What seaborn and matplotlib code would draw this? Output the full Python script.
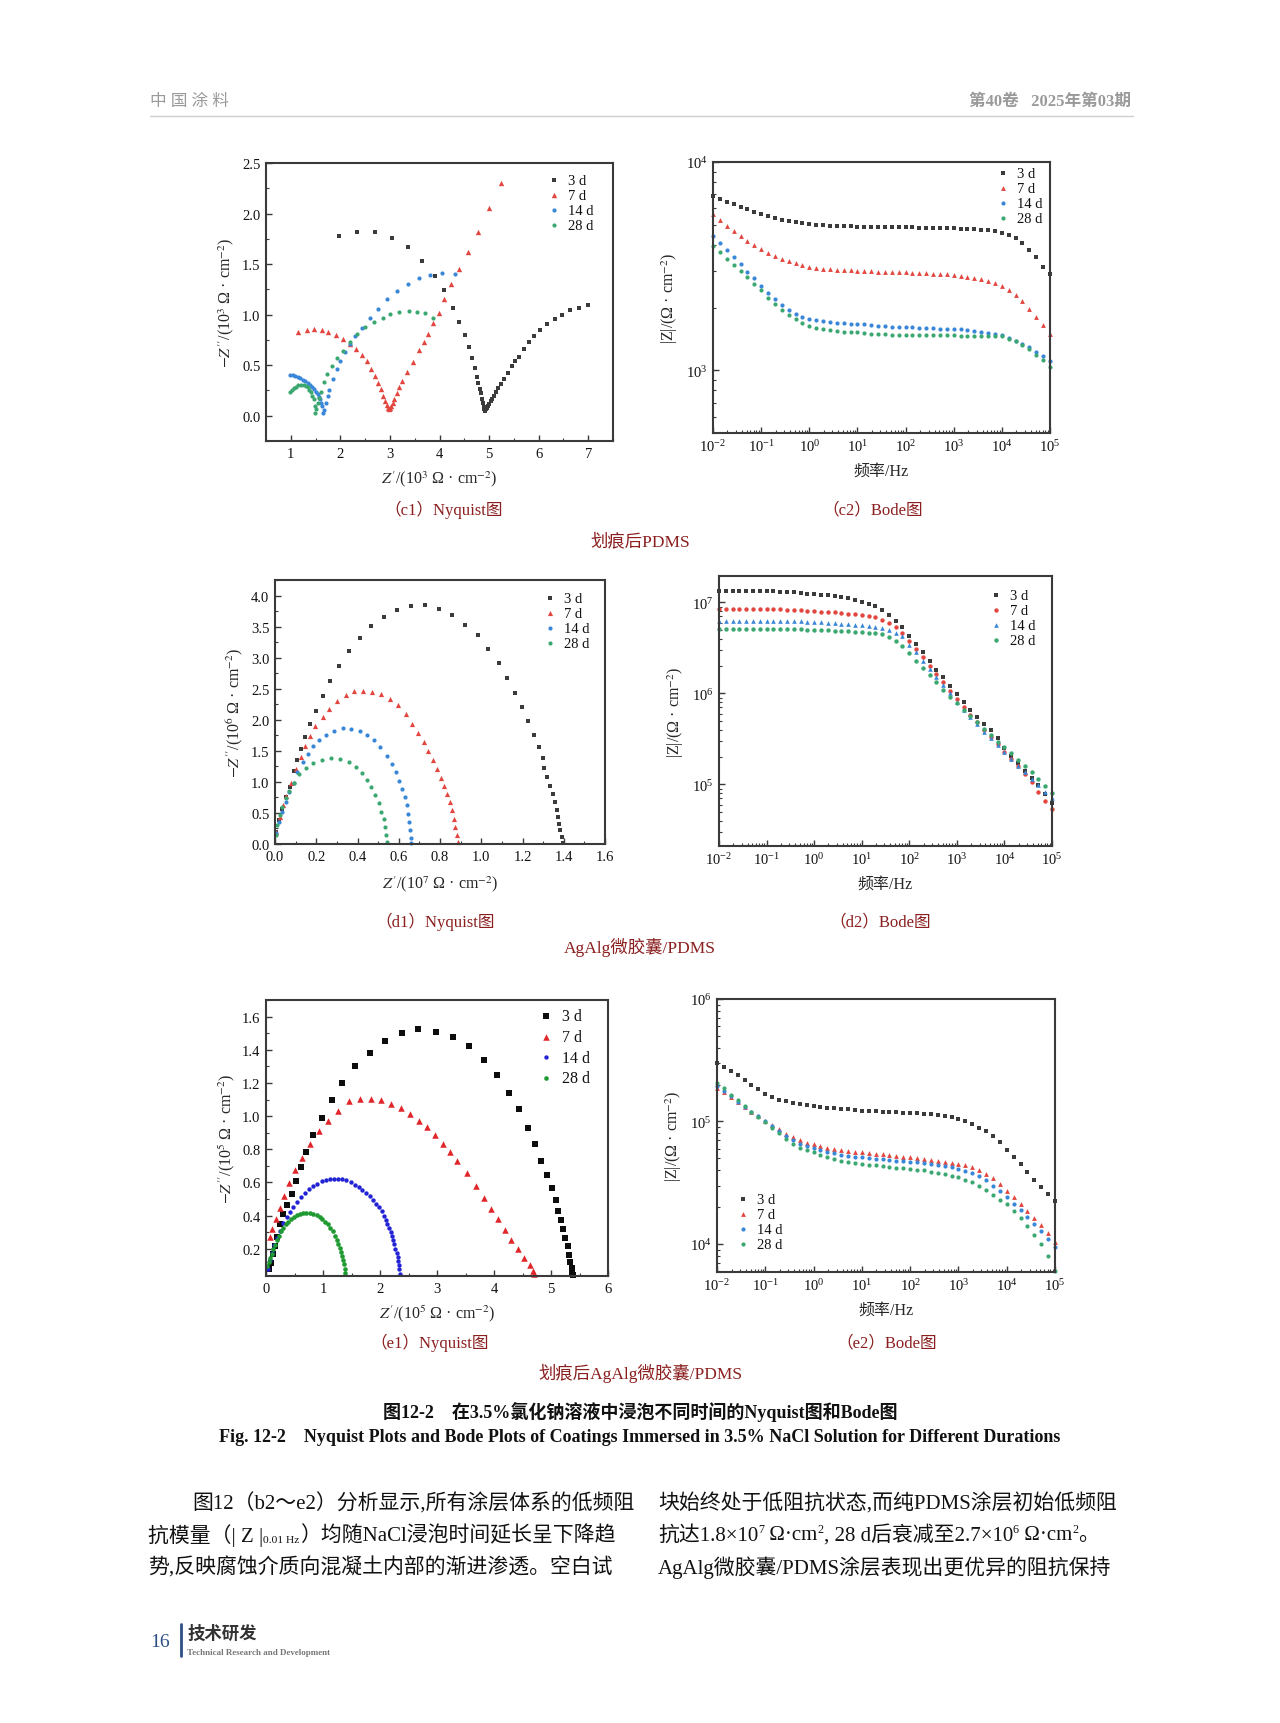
import numpy as np
import pandas as pd
import matplotlib
matplotlib.use("Agg")
import matplotlib.pyplot as plt
import seaborn as sns
from matplotlib.ticker import LogLocator, NullFormatter, MultipleLocator

# ── Data ──────────────────────────────────────────────────────────────────────
DAYS = ['3 d', '7 d', '14 d', '28 d']

# (c1) Nyquist, scratched PDMS, units 10^3
C1_X_3D = [1.98, 2.33, 2.69, 3.04, 3.36, 3.65, 3.90, 4.10, 4.27, 4.39, 4.51, 4.59, 4.66, 4.71, 4.75,
           4.78, 4.81, 4.83, 4.85, 4.87, 4.89, 4.90, 4.91, 4.93, 4.95, 4.97, 5.00, 5.03, 5.06, 5.10,
           5.14, 5.19, 5.24, 5.30, 5.38, 5.46, 5.53, 5.60, 5.70, 5.80, 5.90, 6.02, 6.17, 6.33, 6.47,
           6.64, 6.81, 7.00]
C1_Y_3D = [1.78, 1.82, 1.82, 1.76, 1.67, 1.53, 1.385, 1.24, 1.07, 0.93, 0.80, 0.68, 0.57, 0.47, 0.38,
           0.32, 0.26, 0.22, 0.17, 0.13, 0.09, 0.07, 0.05, 0.065, 0.08, 0.10, 0.12, 0.15, 0.17, 0.20,
           0.23, 0.27, 0.31, 0.36, 0.42, 0.49, 0.54, 0.58, 0.66, 0.73, 0.79, 0.85, 0.91, 0.96, 1.00,
           1.045, 1.07, 1.095]
C1_X_7D = [1.155, 1.32, 1.47, 1.63, 1.76, 1.91, 2.05, 2.19, 2.32, 2.43, 2.54, 2.62, 2.69, 2.75, 2.81,
           2.86, 2.90, 2.94, 2.97, 2.99, 3.01, 3.03, 3.06, 3.09, 3.14, 3.19, 3.25, 3.34, 3.46, 3.59,
           3.68, 3.77, 3.87, 3.98, 4.10, 4.23, 4.39, 4.57, 4.77, 4.99, 5.24]
C1_Y_7D = [0.83, 0.85, 0.86, 0.85, 0.83, 0.80, 0.76, 0.71, 0.66, 0.60, 0.54, 0.46, 0.39, 0.32, 0.26,
           0.20, 0.15, 0.11, 0.08, 0.065, 0.08, 0.10, 0.13, 0.17, 0.22, 0.28, 0.34, 0.43, 0.53, 0.65,
           0.73, 0.81, 0.92, 1.02, 1.15, 1.30, 1.45, 1.62, 1.82, 2.05, 2.30]
C1_X_14D = [0.99, 1.04, 1.09, 1.14, 1.19, 1.24, 1.29, 1.34, 1.39, 1.43, 1.47, 1.51, 1.54, 1.57, 1.59,
            1.61, 1.63, 1.65, 1.68, 1.71, 1.75, 1.78, 1.85, 1.93, 2.00, 2.10, 2.20, 2.30, 2.43, 2.60,
            2.76, 2.94, 3.14, 3.36, 3.58, 3.80, 4.06, 4.31]
C1_Y_14D = [0.405, 0.40, 0.39, 0.38, 0.37, 0.355, 0.34, 0.32, 0.30, 0.28, 0.26, 0.235, 0.21, 0.19, 0.165,
            0.13, 0.10, 0.03, 0.06, 0.13, 0.20, 0.25, 0.36, 0.46, 0.54, 0.63, 0.71, 0.79, 0.87, 0.97,
            1.06, 1.15, 1.23, 1.30, 1.36, 1.39, 1.41, 1.40]
C1_X_28D = [0.99, 1.03, 1.07, 1.11, 1.15, 1.20, 1.26, 1.30, 1.34, 1.37, 1.40, 1.43, 1.46, 1.48, 1.49,
            1.51, 1.54, 1.57, 1.61, 1.67, 1.74, 1.83, 1.93, 2.05, 2.19, 2.33, 2.50, 2.67, 2.86, 3.01,
            3.19, 3.38, 3.55, 3.71, 3.87]
C1_Y_28D = [0.23, 0.25, 0.27, 0.285, 0.30, 0.305, 0.30, 0.29, 0.28, 0.255, 0.23, 0.20, 0.165, 0.10, 0.03,
            0.07, 0.13, 0.18, 0.23, 0.33, 0.41, 0.49, 0.57, 0.64, 0.73, 0.81, 0.88, 0.93, 0.97, 1.01,
            1.03, 1.04, 1.03, 1.02, 0.97]

# Bode frequencies (Hz), shared by c2 / d2 / e2
FREQ_HZ = [0.01, 0.0139, 0.0193, 0.0268, 0.0373, 0.0518, 0.072,
           0.1, 0.139, 0.193, 0.268, 0.373, 0.518, 0.72,
           1.0, 1.39, 1.93, 2.68, 3.73, 5.18, 7.2,
           10, 13.9, 19.3, 26.8, 37.3, 51.8, 72,
           100, 139, 193, 268, 373, 518, 720,
           1e3, 1.39e3, 1.93e3, 2.68e3, 3.73e3, 5.18e3, 7.2e3,
           1e4, 1.39e4, 1.93e4, 2.68e4, 3.73e4, 5.18e4, 7.2e4, 1e5]

# (c2) |Z|, ohm
C2_3D = [6870, 6650, 6450, 6260, 6080, 5920, 5770, 5620, 5490, 5380, 5280, 5200, 5130, 5080,
         5040, 5000, 4970, 4950, 4930, 4920, 4910, 4900, 4890, 4880, 4880, 4870, 4870, 4860,
         4850, 4850, 4840, 4840, 4830, 4820, 4810, 4800, 4790, 4780, 4760, 4740, 4700, 4650,
         4560, 4450, 4300, 4080, 3800, 3480, 3150, 2900]
C2_7D = [5600, 5250, 4930, 4650, 4400, 4180, 3990, 3820, 3670, 3550, 3440, 3350, 3270, 3210,
         3150, 3110, 3080, 3060, 3040, 3030, 3020, 3010, 3000, 2990, 2980, 2970, 2960, 2955,
         2950, 2940, 2930, 2920, 2910, 2900, 2890, 2870, 2850, 2820, 2780, 2740, 2690, 2630,
         2550, 2430, 2300, 2140, 1970, 1800, 1650, 1500]
C2_14D = [4430, 4090, 3780, 3490, 3230, 2980, 2760, 2550, 2360, 2200, 2060, 1950, 1870, 1810,
          1770, 1740, 1720, 1700, 1690, 1680, 1675, 1670, 1660, 1650, 1640, 1630, 1620, 1615,
          1610, 1605, 1600, 1595, 1590, 1585, 1580, 1580, 1570, 1560, 1550, 1530, 1510, 1490,
          1470, 1430, 1390, 1340, 1290, 1230, 1170, 1110]
C2_28D = [3960, 3690, 3440, 3210, 2990, 2790, 2600, 2420, 2230, 2070, 1940, 1840, 1760, 1690,
          1640, 1600, 1580, 1560, 1545, 1535, 1525, 1520, 1510, 1500, 1495, 1490, 1485, 1482,
          1480, 1478, 1476, 1474, 1472, 1471, 1470, 1470, 1468, 1466, 1465, 1464, 1462, 1461,
          1460, 1420, 1380, 1320, 1260, 1190, 1120, 1040]

# (d1) Nyquist, AgAlg/PDMS: x in 10^7, y in 10^6
D1_X_3D = [0.0065, 0.02, 0.036, 0.055, 0.072, 0.091, 0.106, 0.125, 0.147, 0.169, 0.199, 0.235, 0.267,
           0.309, 0.36, 0.41, 0.467, 0.528, 0.593, 0.661, 0.728, 0.795, 0.86, 0.922, 0.984, 1.034,
           1.085, 1.127, 1.166, 1.197, 1.225, 1.257, 1.278, 1.298, 1.306, 1.319, 1.334, 1.347, 1.358,
           1.366, 1.371, 1.379, 1.384, 1.391, 1.396]
D1_Y_3D = [0.19, 0.38, 0.57, 0.75, 0.91, 1.18, 1.36, 1.53, 1.72, 1.93, 2.14, 2.38, 2.63, 2.87, 3.10,
           3.32, 3.51, 3.66, 3.76, 3.83, 3.84, 3.79, 3.68, 3.53, 3.36, 3.14, 2.91, 2.67, 2.43, 2.20,
           1.98, 1.76, 1.56, 1.38, 1.22, 1.075, 0.94, 0.81, 0.67, 0.54, 0.43, 0.33, 0.22, 0.11, 0.02]
D1_X_7D = [0.007, 0.023, 0.039, 0.055, 0.077, 0.101, 0.125, 0.147, 0.169, 0.195, 0.231, 0.264, 0.301,
           0.342, 0.383, 0.427, 0.472, 0.516, 0.557, 0.598, 0.635, 0.663, 0.695, 0.72, 0.744, 0.765,
           0.785, 0.805, 0.818, 0.834, 0.847, 0.858, 0.866, 0.875, 0.881, 0.886]
D1_Y_7D = [0.19, 0.43, 0.62, 0.78, 0.99, 1.21, 1.40, 1.58, 1.74, 1.90, 2.05, 2.18, 2.30, 2.40, 2.46,
           2.47, 2.45, 2.41, 2.33, 2.24, 2.09, 1.93, 1.79, 1.65, 1.50, 1.36, 1.21, 1.06, 0.94, 0.81,
           0.67, 0.54, 0.41, 0.27, 0.14, 0.03]
D1_X_14D = [0.007, 0.02, 0.036, 0.052, 0.068, 0.09, 0.109, 0.134, 0.158, 0.186, 0.215, 0.248, 0.285,
            0.329, 0.37, 0.41, 0.446, 0.48, 0.511, 0.541, 0.565, 0.586, 0.603, 0.617, 0.629, 0.638,
            0.645, 0.65, 0.655, 0.658, 0.66]
D1_Y_14D = [0.17, 0.35, 0.51, 0.67, 0.83, 0.99, 1.16, 1.32, 1.45, 1.57, 1.68, 1.76, 1.82, 1.86, 1.85,
            1.82, 1.76, 1.67, 1.56, 1.42, 1.29, 1.16, 1.02, 0.89, 0.75, 0.62, 0.49, 0.35, 0.22, 0.09,
            0.02]
D1_X_28D = [0.003, 0.011, 0.023, 0.036, 0.052, 0.068, 0.09, 0.117, 0.15, 0.186, 0.228, 0.272, 0.316,
            0.358, 0.394, 0.423, 0.448, 0.467, 0.484, 0.505, 0.516, 0.527, 0.535, 0.540, 0.545]
D1_Y_28D = [0.14, 0.30, 0.46, 0.59, 0.74, 0.86, 0.99, 1.12, 1.22, 1.30, 1.36, 1.38, 1.37, 1.32, 1.24,
            1.14, 1.03, 0.91, 0.79, 0.66, 0.52, 0.40, 0.27, 0.14, 0.03]

# (d2) |Z|, ohm
D2_3D = [1.334e7, 1.334e7, 1.334e7, 1.334e7, 1.334e7, 1.334e7, 1.334e7,
         1.330e7, 1.324e7, 1.315e7, 1.303e7, 1.288e7, 1.271e7, 1.250e7,
         1.230e7, 1.216e7, 1.197e7, 1.175e7, 1.148e7, 1.109e7, 1.059e7,
         1.0e7, 9.66e6, 9.12e6, 8.32e6, 7.33e6, 6.31e6, 5.43e6,
         4.27e6, 3.51e6, 2.85e6, 2.24e6, 1.82e6, 1.51e6, 1.19e6,
         9.77e5, 7.94e5, 6.53e5, 5.43e5, 4.57e5, 3.94e5, 3.24e5,
         2.51e5, 2.07e5, 1.70e5, 1.40e5, 1.16e5, 9.77e4, 7.76e4, 6.31e4]
D2_7D = [8.41e6, 8.41e6, 8.41e6, 8.41e6, 8.41e6, 8.41e6, 8.41e6,
         8.41e6, 8.39e6, 8.36e6, 8.32e6, 8.26e6, 8.18e6, 8.11e6,
         8.04e6, 7.94e6, 7.85e6, 7.76e6, 7.64e6, 7.52e6, 7.38e6,
         7.24e6, 7.08e6, 6.84e6, 6.46e6, 5.96e6, 5.31e6, 4.57e6,
         3.80e6, 3.09e6, 2.51e6, 2.00e6, 1.62e6, 1.32e6, 1.07e6,
         8.71e5, 7.08e5, 5.75e5, 4.79e5, 3.98e5, 3.31e5, 2.75e5,
         2.29e5, 1.91e5, 1.58e5, 1.29e5, 1.05e5, 8.32e4, 6.61e4, 5.37e4]
D2_14D = [6.31e6, 6.31e6, 6.31e6, 6.31e6, 6.31e6, 6.31e6, 6.31e6,
          6.31e6, 6.30e6, 6.28e6, 6.25e6, 6.22e6, 6.18e6, 6.14e6,
          6.10e6, 6.04e6, 5.98e6, 5.92e6, 5.85e6, 5.78e6, 5.70e6,
          5.62e6, 5.52e6, 5.37e6, 5.19e6, 4.95e6, 4.62e6, 4.22e6,
          3.39e6, 2.82e6, 2.29e6, 1.86e6, 1.51e6, 1.23e6, 1.00e6,
          8.13e5, 6.61e5, 5.50e5, 4.57e5, 3.80e5, 3.24e5, 2.69e5,
          2.24e5, 1.91e5, 1.58e5, 1.35e5, 1.15e5, 9.77e4, 8.32e4, 7.08e4]
D2_28D = [5.07e6, 5.07e6, 5.07e6, 5.07e6, 5.07e6, 5.07e6, 5.07e6,
          5.07e6, 5.07e6, 5.06e6, 5.06e6, 5.05e6, 5.04e6, 5.02e6,
          5.01e6, 4.99e6, 4.95e6, 4.90e6, 4.86e6, 4.82e6, 4.75e6,
          4.68e6, 4.62e6, 4.57e6, 4.47e6, 4.17e6, 3.80e6, 3.31e6,
          2.75e6, 2.29e6, 1.91e6, 1.58e6, 1.32e6, 1.10e6, 9.12e5,
          7.76e5, 6.61e5, 5.62e5, 4.79e5, 4.07e5, 3.47e5, 2.95e5,
          2.57e5, 2.19e5, 1.86e5, 1.58e5, 1.35e5, 1.15e5, 9.55e4, 8.13e4]

# (e1) Nyquist, scratched AgAlg/PDMS, units 10^5
E1_X_3D = [0.06, 0.088, 0.117, 0.158, 0.20, 0.245, 0.304, 0.374, 0.45, 0.526, 0.613, 0.707, 0.83,
           0.975, 1.15, 1.34, 1.565, 1.82, 2.085, 2.38, 2.675, 2.98, 3.28, 3.56, 3.82, 4.05, 4.26,
           4.44, 4.60, 4.72, 4.83, 4.93, 5.01, 5.08, 5.13, 5.17, 5.21, 5.25, 5.29, 5.32, 5.34, 5.36,
           5.375, 5.385]
E1_Y_3D = [0.076, 0.116, 0.166, 0.216, 0.272, 0.347, 0.407, 0.467, 0.533, 0.607, 0.693, 0.784, 0.884,
           0.99, 1.10, 1.20, 1.30, 1.38, 1.455, 1.50, 1.524, 1.51, 1.476, 1.42, 1.34, 1.245, 1.14,
           1.04, 0.93, 0.83, 0.73, 0.647, 0.567, 0.497, 0.43, 0.376, 0.32, 0.266, 0.216, 0.165, 0.12,
           0.085, 0.06, 0.045]
E1_X_7D = [0.07, 0.11, 0.175, 0.245, 0.32, 0.41, 0.51, 0.64, 0.78, 0.93, 1.09, 1.27, 1.46, 1.65, 1.84,
           2.02, 2.19, 2.37, 2.52, 2.68, 2.83, 2.97, 3.11, 3.22, 3.35, 3.52, 3.68, 3.83, 3.94, 4.07,
           4.19, 4.30, 4.42, 4.53, 4.63, 4.68, 4.71]
E1_Y_7D = [0.27, 0.32, 0.38, 0.447, 0.517, 0.597, 0.677, 0.748, 0.832, 0.908, 0.968, 1.03, 1.093, 1.105,
           1.105, 1.095, 1.075, 1.05, 1.014, 0.968, 0.934, 0.884, 0.834, 0.782, 0.732, 0.657, 0.577,
           0.507, 0.437, 0.377, 0.316, 0.252, 0.196, 0.146, 0.10, 0.066, 0.046]
E1_X_14D = [0.04, 0.07, 0.10, 0.14, 0.19, 0.24, 0.30, 0.36, 0.42, 0.48, 0.55, 0.61, 0.68, 0.75, 0.83,
            0.90, 0.975, 1.05, 1.12, 1.20, 1.27, 1.34, 1.41, 1.49, 1.56, 1.63, 1.69, 1.76, 1.82, 1.88,
            1.93, 1.98, 2.03, 2.07, 2.10, 2.13, 2.16, 2.19, 2.21, 2.23, 2.25, 2.27, 2.29, 2.31, 2.32,
            2.33, 2.34, 2.35]
E1_Y_14D = [0.08, 0.13, 0.176, 0.22, 0.267, 0.31, 0.357, 0.39, 0.42, 0.45, 0.48, 0.51, 0.537, 0.56,
            0.577, 0.593, 0.607, 0.615, 0.621, 0.623, 0.623, 0.62, 0.613, 0.60, 0.587, 0.572, 0.557,
            0.537, 0.517, 0.495, 0.473, 0.45, 0.427, 0.40, 0.376, 0.351, 0.326, 0.30, 0.276, 0.251,
            0.226, 0.20, 0.176, 0.15, 0.126, 0.10, 0.076, 0.046]
E1_X_28D = [0.02, 0.045, 0.07, 0.10, 0.13, 0.16, 0.19, 0.225, 0.26, 0.30, 0.345, 0.39, 0.44, 0.49, 0.54,
            0.595, 0.65, 0.71, 0.77, 0.83, 0.89, 0.94, 0.99, 1.04, 1.09, 1.13, 1.17, 1.205, 1.24, 1.27,
            1.30, 1.32, 1.34, 1.355, 1.37, 1.38, 1.39]
E1_Y_28D = [0.096, 0.12, 0.146, 0.17, 0.196, 0.225, 0.253, 0.28, 0.306, 0.327, 0.347, 0.362, 0.377,
            0.39, 0.403, 0.41, 0.417, 0.418, 0.417, 0.41, 0.403, 0.39, 0.377, 0.362, 0.347, 0.327,
            0.306, 0.28, 0.256, 0.23, 0.206, 0.18, 0.156, 0.13, 0.106, 0.08, 0.056]

# (e2) |Z|, ohm
E2_3D = [2.99e5, 2.77e5, 2.58e5, 2.40e5, 2.19e5, 2.00e5, 1.83e5,
         1.67e5, 1.58e5, 1.51e5, 1.46e5, 1.42e5, 1.38e5, 1.36e5,
         1.34e5, 1.32e5, 1.30e5, 1.285e5, 1.27e5, 1.255e5, 1.24e5,
         1.22e5, 1.215e5, 1.21e5, 1.205e5, 1.20e5, 1.19e5, 1.18e5,
         1.17e5, 1.165e5, 1.16e5, 1.15e5, 1.13e5, 1.11e5, 1.08e5,
         1.045e5, 1.00e5, 9.5e4, 8.9e4, 8.3e4, 7.6e4, 6.8e4,
         5.8e4, 5.1e4, 4.5e4, 3.9e4, 3.35e4, 2.9e4, 2.55e4, 2.24e4]
E2_7D = [1.89e5, 1.73e5, 1.58e5, 1.44e5, 1.32e5, 1.20e5, 1.10e5,
         1.01e5, 9.3e4, 8.6e4, 7.9e4, 7.4e4, 7.0e4, 6.7e4,
         6.5e4, 6.3e4, 6.1e4, 5.95e4, 5.85e4, 5.75e4, 5.68e4,
         5.6e4, 5.52e4, 5.45e4, 5.38e4, 5.3e4, 5.22e4, 5.16e4,
         5.1e4, 5.02e4, 4.95e4, 4.87e4, 4.79e4, 4.7e4, 4.6e4,
         4.5e4, 4.38e4, 4.22e4, 4.0e4, 3.74e4, 3.45e4, 3.1e4,
         2.73e4, 2.4e4, 2.12e4, 1.87e4, 1.63e4, 1.42e4, 1.22e4, 1.04e4]
E2_14D = [1.95e5, 1.77e5, 1.60e5, 1.45e5, 1.32e5, 1.20e5, 1.10e5,
          1.00e5, 9.1e4, 8.3e4, 7.6e4, 7.0e4, 6.6e4, 6.3e4,
          6.1e4, 5.85e4, 5.65e4, 5.5e4, 5.35e4, 5.25e4, 5.17e4,
          5.1e4, 5.03e4, 4.97e4, 4.91e4, 4.85e4, 4.8e4, 4.75e4,
          4.7e4, 4.64e4, 4.58e4, 4.5e4, 4.42e4, 4.32e4, 4.22e4,
          4.1e4, 3.95e4, 3.78e4, 3.56e4, 3.3e4, 3.0e4, 2.7e4,
          2.4e4, 2.12e4, 1.88e4, 1.66e4, 1.45e4, 1.27e4, 1.1e4, 9.4e3]
E2_28D = [2.07e5, 1.86e5, 1.66e5, 1.49e5, 1.34e5, 1.20e5, 1.09e5,
          9.9e4, 8.9e4, 8.0e4, 7.2e4, 6.6e4, 6.1e4, 5.8e4,
          5.6e4, 5.35e4, 5.1e4, 4.9e4, 4.77e4, 4.67e4, 4.58e4,
          4.5e4, 4.43e4, 4.37e4, 4.3e4, 4.24e4, 4.18e4, 4.14e4,
          4.1e4, 4.04e4, 3.98e4, 3.9e4, 3.8e4, 3.7e4, 3.6e4,
          3.5e4, 3.35e4, 3.18e4, 2.98e4, 2.75e4, 2.5e4, 2.3e4,
          2.1e4, 1.85e4, 1.62e4, 1.4e4, 1.19e4, 9.9e3, 7.9e3, 6.0e3]

# ── Setup ─────────────────────────────────────────────────────────────────────
sns.set_theme(style="ticks")
SERIF = ['Liberation Serif', 'Noto Sans CJK SC', 'DejaVu Sans']
plt.rcParams['font.family'] = SERIF
plt.rcParams['mathtext.fontset'] = 'stix'
plt.rcParams['axes.unicode_minus'] = True

W, H = 1280, 1724
fig = plt.figure(figsize=(W / 100, H / 100), dpi=100)
fig.patch.set_facecolor('white')
renderer = fig.canvas.get_renderer()

DARKRED = '#8b1f1f'
PAL = {'3 d': '#3b3b3b', '7 d': '#e2463f', '14 d': '#3a86d8', '28 d': '#3aa870'}
PAL_E1 = {'3 d': '#0d0d0d', '7 d': '#e0262a', '14 d': '#2323d6', '28 d': '#1e9a31'}


def add_ax(l, t, r, b):
    return fig.add_axes([l / W, 1 - b / H, (r - l) / W, (b - t) / H])


def ftext(x, y, s, **kw):
    kw.setdefault('va', 'center')
    return fig.text(x / W, 1 - y / H, s, **kw)


def rich_line(x, y, parts, fs=15, color='#111'):
    # plain text with small raised / lowered pieces, laid out left to right
    for s, kind in parts:
        if kind == 'sup':
            t = ftext(x, y - 6, s, fontsize=fs * 0.58, color=color, ha='left')
        elif kind == 'sub':
            t = ftext(x, y + 5, s, fontsize=fs * 0.55, color=color, ha='left')
        else:
            t = ftext(x, y, s, fontsize=fs, color=color, ha='left')
        x += t.get_window_extent(renderer=renderer).width


def style_ax(ax, log=False):
    for sp in ax.spines.values():
        sp.set_color('#3a3a3a')
        sp.set_linewidth(1.5)
    ax.tick_params(which='both', direction='in', colors='#3a3a3a', labelcolor='#111',
                   labelsize=10.5, pad=4, top=False, right=False)
    ax.tick_params(which='major', length=4, width=1)
    ax.tick_params(which='minor', length=2.5, width=0.8)
    if log:
        ax.set_xscale('log')
        ax.set_yscale('log')
        for axis in (ax.xaxis, ax.yaxis):
            axis.set_major_locator(LogLocator(base=10, numticks=20))
            axis.set_minor_locator(LogLocator(base=10, subs=np.arange(2, 10), numticks=20))
            axis.set_minor_formatter(NullFormatter())
        ax.set_xlim(1e-2, 1e5)
        ax.set_xlabel('频率/Hz', fontsize=11.5, labelpad=6)
        ax.set_ylabel('|Z|/(Ω · cm$^{-2}$)', fontsize=11.5, labelpad=4)


def draw(ax, xs_list, ys_list, pal, markers, sizes):
    for day, xs, ys in zip(DAYS, xs_list, ys_list):
        sns.scatterplot(x=xs, y=ys, ax=ax, color=pal[day], marker=markers[day],
                        s=sizes[day], linewidth=0, label=day, clip_on=False)


def legend(ax, x, y, fs=10.5, spacing=0.12):
    leg = ax.legend(loc='upper left', bbox_to_anchor=(x / W, 1 - y / H),
                    bbox_transform=fig.transFigure, frameon=False, fontsize=fs,
                    handlelength=0.8, handletextpad=0.6, labelspacing=spacing,
                    borderpad=0, borderaxespad=0, markerscale=1.0)
    for t in leg.get_texts():
        t.set_color('#111')


MK_A = {'3 d': 's', '7 d': '^', '14 d': 'o', '28 d': 'o'}
MK_D2 = {'3 d': 's', '7 d': 'o', '14 d': '^', '28 d': 'o'}

# ── (c1) Nyquist ──────────────────────────────────────────────────────────────
ax = add_ax(266, 164, 613, 442)
draw(ax, [C1_X_3D, C1_X_7D, C1_X_14D, C1_X_28D], [C1_Y_3D, C1_Y_7D, C1_Y_14D, C1_Y_28D],
     PAL, MK_A, {'3 d': 10, '7 d': 15, '14 d': 9, '28 d': 9})
style_ax(ax)
ax.set_xlim(0.5, 7.5)
ax.set_ylim(-0.25, 2.5)
ax.xaxis.set_major_locator(MultipleLocator(1))
ax.xaxis.set_minor_locator(MultipleLocator(0.5))
ax.yaxis.set_major_locator(MultipleLocator(0.5))
ax.yaxis.set_minor_locator(MultipleLocator(0.25))
ax.yaxis.set_major_formatter(lambda v, p: f'{v:.1f}')
ax.set_xlabel("$Z'$/(10$^3$ Ω · cm$^{-2}$)", fontsize=11.5, labelpad=6)
ax.set_ylabel("$-Z''$/(10$^3$ Ω · cm$^{-2}$)", fontsize=11.5, labelpad=4)
legend(ax, 548, 175)

# ── (c2) Bode ─────────────────────────────────────────────────────────────────
ax = add_ax(713, 163, 1050, 434)
draw(ax, [FREQ_HZ] * 4, [C2_3D, C2_7D, C2_14D, C2_28D],
     PAL, MK_A, {'3 d': 10, '7 d': 12, '14 d': 9, '28 d': 9})
style_ax(ax, log=True)
ax.set_ylim(500, 1e4)
legend(ax, 997, 168)

# ── (d1) Nyquist ──────────────────────────────────────────────────────────────
ax = add_ax(275, 581, 605, 845)
draw(ax, [D1_X_3D, D1_X_7D, D1_X_14D, D1_X_28D], [D1_Y_3D, D1_Y_7D, D1_Y_14D, D1_Y_28D],
     PAL, MK_A, {'3 d': 12, '7 d': 14, '14 d': 9, '28 d': 9})
style_ax(ax)
ax.set_xlim(0, 1.6)
ax.set_ylim(0, 4.25)
ax.xaxis.set_major_locator(MultipleLocator(0.2))
ax.xaxis.set_minor_locator(MultipleLocator(0.1))
ax.yaxis.set_major_locator(MultipleLocator(0.5))
ax.yaxis.set_minor_locator(MultipleLocator(0.25))
ax.xaxis.set_major_formatter(lambda v, p: f'{v:.1f}')
ax.yaxis.set_major_formatter(lambda v, p: f'{v:.1f}')
ax.set_xlabel("$Z'$/(10$^7$ Ω · cm$^{-2}$)", fontsize=11.5, labelpad=8)
ax.set_ylabel("$-Z''$/(10$^6$ Ω · cm$^{-2}$)", fontsize=11.5, labelpad=4)
legend(ax, 544, 593)

# ── (d2) Bode ─────────────────────────────────────────────────────────────────
ax = add_ax(719, 577, 1052, 847)
draw(ax, [FREQ_HZ] * 4, [D2_3D, D2_7D, D2_14D, D2_28D],
     PAL, MK_D2, {'3 d': 10, '7 d': 10, '14 d': 11, '28 d': 10})
style_ax(ax, log=True)
ax.set_ylim(2.1e4, 1.95e7)
legend(ax, 990, 590)

# ── (e1) Nyquist ──────────────────────────────────────────────────────────────
ax = add_ax(266, 1001, 608, 1277)
draw(ax, [E1_X_3D, E1_X_7D, E1_X_14D, E1_X_28D], [E1_Y_3D, E1_Y_7D, E1_Y_14D, E1_Y_28D],
     PAL_E1, MK_A, {'3 d': 20, '7 d': 22, '14 d': 10, '28 d': 11})
style_ax(ax)
ax.set_xlim(0, 6)
ax.set_ylim(0.036, 1.7)
ax.xaxis.set_major_locator(MultipleLocator(1))
ax.xaxis.set_minor_locator(MultipleLocator(0.5))
ax.set_yticks([0.2, 0.4, 0.6, 0.8, 1.0, 1.2, 1.4, 1.6])
ax.yaxis.set_minor_locator(MultipleLocator(0.1))
ax.yaxis.set_major_formatter(lambda v, p: f'{v:.1f}')
ax.set_xlabel("$Z'$/(10$^5$ Ω · cm$^{-2}$)", fontsize=11.5, labelpad=6)
ax.set_ylabel("$-Z''$/(10$^5$ Ω · cm$^{-2}$)", fontsize=11.5, labelpad=4)
legend(ax, 540, 1009, fs=11.5, spacing=0.3)

# ── (e2) Bode ─────────────────────────────────────────────────────────────────
ax = add_ax(717, 1000, 1055, 1273)
draw(ax, [FREQ_HZ] * 4, [E2_3D, E2_7D, E2_14D, E2_28D],
     PAL, MK_A, {'3 d': 10, '7 d': 12, '14 d': 9, '28 d': 9})
style_ax(ax, log=True)
ax.set_ylim(5900, 1e6)
legend(ax, 737, 1194)

# ── Captions and page text ────────────────────────────────────────────────────
ftext(150, 102, '中 国 涂 料', fontsize=12, color='#9a9a9a', ha='left')
ftext(1131, 102, '第40卷   2025年第03期', fontsize=12, color='#9a9a9a', ha='right',
      fontweight='bold')
fig.add_artist(plt.Line2D([150 / W, 1133 / W], [1 - 117 / H, 1 - 117 / H],
                          color='#cfcfcf', lw=1))

for x, y, s in [(444, 510, '（c1）Nyquist图'), (873, 510, '（c2）Bode图'),
                (435, 922, '（d1）Nyquist图'), (880, 922, '（d2）Bode图'),
                (430, 1343, '（e1）Nyquist图'), (887, 1343, '（e2）Bode图')]:
    ftext(x, y, s, fontsize=12, color=DARKRED, ha='center')

ftext(640, 542, '划痕后PDMS', fontsize=12.5, color=DARKRED, ha='center')
ftext(640, 948, 'AgAlg微胶囊/PDMS', fontsize=12.5, color=DARKRED, ha='center')
ftext(640, 1373, '划痕后AgAlg微胶囊/PDMS', fontsize=12.5, color=DARKRED, ha='center')

ftext(640, 1412, '图12-2　在3.5%氯化钠溶液中浸泡不同时间的Nyquist图和Bode图',
      fontsize=13, fontweight='bold', color='#111', ha='center')
ftext(640, 1437, 'Fig. 12-2    Nyquist Plots and Bode Plots of Coatings Immersed in 3.5% NaCl '
      'Solution for Different Durations', fontsize=13, fontweight='bold', color='#111',
      ha='center')

# body text, two columns
N = 'n'
rich_line(192, 1504, [('图12（b2～e2）分析显示,所有涂层体系的低频阻', N)])
rich_line(148, 1536, [('抗模量（| Z |', N), ('0.01 Hz', 'sub'),
                      ('）均随NaCl浸泡时间延长呈下降趋', N)])
rich_line(148, 1568, [('势,反映腐蚀介质向混凝土内部的渐进渗透。空白试', N)])
rich_line(658, 1504, [('块始终处于低阻抗状态,而纯PDMS涂层初始低频阻', N)])
rich_line(658, 1536, [('抗达1.8×10', N), ('7', 'sup'), (' Ω·cm', N), ('2', 'sup'),
                      (', 28 d后衰减至2.7×10', N), ('6', 'sup'), (' Ω·cm', N), ('2', 'sup'),
                      ('。', N)])
rich_line(658, 1568, [('AgAlg微胶囊/PDMS涂层表现出更优异的阻抗保持', N)])

ftext(150, 1643, '16', fontsize=14, color='#2b4f85', ha='left')
fig.add_artist(plt.Line2D([181 / W, 181 / W], [1 - 1625 / H, 1 - 1657 / H],
                          color='#2b4f85', lw=2))
ftext(187, 1634, '技术研发', fontsize=12.5, color='#333', ha='left', fontweight='bold')
ftext(187, 1653, 'Technical Research and Development', fontsize=6.5, color='#777',
      ha='left', fontweight='bold')

fig.savefig('out.png', dpi=100)
